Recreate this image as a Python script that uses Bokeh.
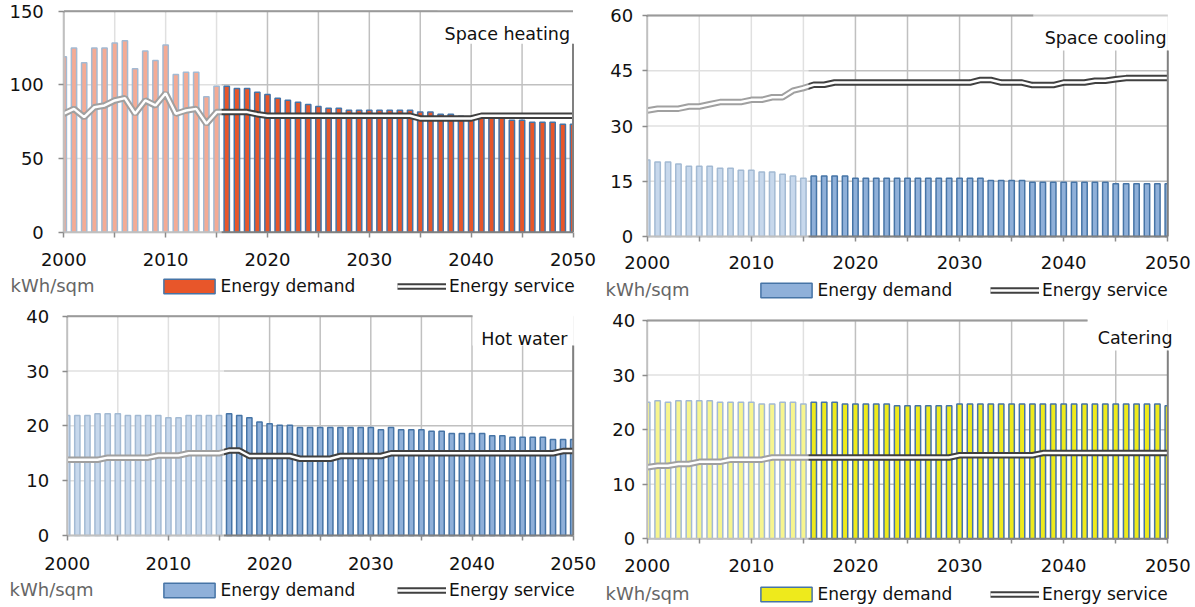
from bokeh.plotting import figure
from bokeh.layouts import column, row
from bokeh.models import FixedTicker, Legend, LegendItem, Label, Range1d, ColumnDataSource
from bokeh.embed import file_html
from bokeh.resources import INLINE

# ---------------- data ----------------
YEARS = list(range(2000, 2051))
HIST_END = 2015
X_TICKS = [2000, 2005, 2010, 2015, 2020, 2025, 2030, 2035, 2040, 2045, 2050]
X_TICK_LABELS = ["2000", "", "2010", "", "2020", "", "2030", "", "2040", "", "2050"]

TITLES = ["Space heating", "Space cooling", "Hot water", "Catering"]
UNIT = "kWh/sqm"
LEGEND_DEMAND = "Energy demand"
LEGEND_SERVICE = "Energy service"

heat_y_ticks = [0, 50, 100, 150]
heat_demand = [119, 125, 115, 125, 125, 128.5, 130, 111, 123, 116.5, 127, 107, 108.5, 108.5, 92, 99,
               99, 97.5, 97.5, 95, 93.5, 91, 89.5, 88.2, 86.7, 85.3,
               84.2, 84.2, 82.8, 82.8, 82.8, 82.8, 82.8, 82.8, 82.8,
               81.5, 81.5, 80.1, 80.1, 78.7, 78,
               77.4, 77.4, 77.4, 76, 76, 74.7, 74.7, 74.7, 73.3, 73.3]
heat_service = [80.4, 83.7, 78.1, 84.8, 86, 89.4, 91, 80.4, 89.4, 86, 94.3, 80.4, 82.6, 83.7, 73.6, 81.5,
                81.5, 81.5, 81.5, 80.1, 79, 79, 79, 79, 79, 79, 79, 79, 79, 79, 79, 79, 79, 79, 79,
                77.2, 77.2, 77.2, 77.2, 77.2, 77.2,
                79, 79, 79, 79, 79, 79, 79, 79, 79, 79]

cool_y_ticks = [0, 15, 30, 45, 60]
cool_demand = [20.8, 20.2, 20.2, 19.7, 19.1, 19.1, 19.1, 18.5, 18.5, 18.0, 18.0, 17.5, 17.5, 16.9, 16.4, 15.8,
               16.4, 16.4, 16.4, 16.4,
               15.8, 15.8, 15.8, 15.8, 15.8, 15.8, 15.8, 15.8, 15.8, 15.8, 15.8, 15.8, 15.8,
               15.2, 15.2, 15.2, 15.2,
               14.75, 14.75, 14.75, 14.75, 14.75, 14.75, 14.75, 14.75,
               14.3, 14.3, 14.3, 14.3, 14.3, 14.3]
cool_service = [34.2, 34.7, 34.7, 34.7, 35.3, 35.3, 35.9, 36.5, 36.5, 36.5, 37.1, 37.1, 37.8, 37.8, 39.6, 40.3,
                41.2, 41.2, 41.8, 41.8, 41.8, 41.8, 41.8, 41.8, 41.8, 41.8, 41.8, 41.8, 41.8, 41.8, 41.8, 41.8,
                42.5, 42.5, 41.8, 41.8, 41.8, 41.1, 41.1, 41.1, 41.8, 41.8, 41.8,
                42.3, 42.3, 42.7, 43.0, 43.0, 43.0, 43.0, 43.0]

water_y_ticks = [0, 10, 20, 30, 40]
water_demand = [21.9, 21.9, 21.9, 22.2, 22.2, 22.2, 21.9, 21.9, 21.9, 21.9, 21.5, 21.5, 21.9, 21.9, 21.9, 21.9,
                22.2, 21.9, 21.5, 20.7, 20.4, 20.1, 20.1,
                19.7, 19.7, 19.7, 19.7, 19.7, 19.7, 19.7, 19.7, 19.3, 19.7, 19.3, 19.3, 19.3,
                19.0, 19.0, 18.6, 18.6, 18.6, 18.6, 18.2, 18.2, 17.9, 17.9, 17.9, 17.9, 17.5, 17.5, 17.5]
water_service = [13.8, 13.8, 13.8, 13.8, 14.2, 14.2, 14.2, 14.2, 14.2, 14.6, 14.6, 14.6, 15.0, 15.0, 15.0, 15.0,
                 15.5, 15.5, 14.5, 14.5, 14.5, 14.5, 14.5, 14.0, 14.0, 14.0, 14.0,
                 14.5, 14.5, 14.5, 14.5, 14.5,
                 15.0, 15.0, 15.0, 15.0, 15.0, 15.0, 15.0, 15.0, 15.0, 15.0, 15.0, 15.0, 15.0, 15.0, 15.0, 15.0, 15.0,
                 15.4, 15.4]

cater_y_ticks = [0, 10, 20, 30, 40]
cater_demand = [25.0, 25.3, 25.0, 25.3, 25.3, 25.3, 25.3, 25.0, 25.0, 25.0, 25.0, 24.7, 24.7, 25.0, 25.0, 24.7,
                25.0, 25.0, 25.0, 24.7, 24.7, 24.7, 24.7, 24.7,
                24.4, 24.4, 24.4, 24.4, 24.4, 24.4,
                24.7, 24.7, 24.7, 24.7, 24.7, 24.7, 24.7, 24.7, 24.7, 24.7,
                24.7, 24.7, 24.7, 24.7, 24.7, 24.7, 24.7, 24.7, 24.7, 24.7, 24.4]
cater_service = [13.1, 13.4, 13.4, 13.7, 13.7, 14.1, 14.1, 14.1, 14.5, 14.5, 14.5, 14.5, 14.9, 14.9, 14.9, 14.9,
                 14.9, 14.9, 14.9, 14.9, 14.9, 14.9, 14.9, 14.9, 14.9, 14.9, 14.9, 14.9, 14.9, 14.9,
                 15.3, 15.3, 15.3, 15.3, 15.3, 15.3, 15.3, 15.3,
                 15.7, 15.7, 15.7, 15.7, 15.7, 15.7, 15.7, 15.7, 15.7, 15.7, 15.7, 15.7, 15.7]

# ---------------- styles ----------------
FONT = "DejaVu Sans"
BAR_EDGE = "#4674A6"
DARK = "#404040"
GRID = "#C0C0C0"
AXIS = "#808080"
TICK = "#8C8C8C"
FILLS = ["#E8562A", "#8FB0D9", "#8FB0D9", "#EEEA1C"]

FIG_W, FIG_H = 597, 303

# page-pixel anchors of each panel (figure origin, plot corners, texts)
GEO = [
    dict(fx=0, fy=0, x2000=63.3, x2050=572.5, ytop=10.7, y0=231.7,
         box_left=437, box_bottom=43.3, top_stop=None, light_top=False,
         title_right=569.5, title_base=33, unit_x=10, leg_c=285.5, legA=163, legB=397,
         ystand=15, xstand=16),
    dict(fx=597, fy=0, x2000=646.7, x2050=1167.3, ytop=15, y0=236,
         box_left=1033, box_bottom=50, top_stop=1033, light_top=True,
         title_right=1166, title_base=37, unit_x=605, leg_c=290, legA=760, legB=990,
         ystand=9, xstand=14),
    dict(fx=0, fy=303, x2000=66.7, x2050=572.7, ytop=315.7, y0=535,
         box_left=472, box_bottom=345, top_stop=472, light_top=False,
         title_right=567, title_base=338.3, unit_x=9, leg_c=590, legA=163, legB=397,
         ystand=13, xstand=16),
    dict(fx=597, fy=303, x2000=646.7, x2050=1167.3, ytop=320, y0=538.3,
         box_left=1087, box_bottom=350, top_stop=1087, light_top=False,
         title_right=1172, title_base=337, unit_x=605, leg_c=594, legA=760, legB=990,
         ystand=7, xstand=15),
]


def make_panel(title, demand, service, yticks, fill, g):
    ymax = yticks[-1]
    x0, x1 = YEARS[0], YEARS[-1]
    ppx = (g["x2050"] - g["x2000"]) / (x1 - x0)
    ppy = (g["y0"] - g["ytop"]) / ymax

    def X(px):  # page x -> data x
        return x0 + (px - g["x2000"]) / ppx

    def Y(py):  # page y -> data y
        return (g["y0"] - py) / ppy

    def SX(px):  # page x -> screen units in the frame
        return px - g["fx"]

    def SY(py):
        return g["fy"] + FIG_H - py

    p = figure(width=FIG_W, height=FIG_H, title=None,
               x_range=Range1d(X(g["fx"]), X(g["fx"] + FIG_W)),
               y_range=Range1d(Y(g["fy"] + FIG_H), Y(g["fy"])),
               output_backend="svg", toolbar_location=None,
               min_border=0, min_border_left=0, min_border_right=0,
               min_border_top=0, min_border_bottom=0)
    p.outline_line_color = None
    p.background_fill_color = "white"
    p.border_fill_color = "white"
    p.xgrid.visible = False
    p.ygrid.visible = False

    # axes placed at the data origin
    p.xaxis.fixed_location = 0
    p.yaxis.fixed_location = x0
    for ax in (p.xaxis[0], p.yaxis[0]):
        ax.axis_line_color = None
        ax.major_tick_line_color = TICK
        ax.major_tick_line_width = 1.5
        ax.major_tick_out = 5
        ax.major_tick_in = 0
        ax.minor_tick_line_color = None
        ax.major_label_text_font = FONT
        ax.major_label_text_font_size = "18px"
        ax.major_label_text_color = "#111111"
    p.xaxis.ticker = FixedTicker(ticks=X_TICKS)
    p.xaxis.major_label_overrides = {t: s for t, s in zip(X_TICKS, X_TICK_LABELS)}
    p.xaxis.major_label_standoff = int(g["xstand"])
    p.yaxis.ticker = FixedTicker(ticks=yticks)
    p.yaxis.major_label_standoff = int(g["ystand"])

    # grid lines inside the plot area
    p.segment(x0=X_TICKS, x1=X_TICKS, y0=[0] * len(X_TICKS), y1=[ymax] * len(X_TICKS),
              line_color=GRID, line_width=1.5)
    p.segment(x0=[x0] * len(yticks), x1=[x1] * len(yticks), y0=yticks, y1=yticks,
              line_color=GRID, line_width=1.5)

    src = ColumnDataSource(dict(year=YEARS, demand=demand, service=service))
    r_bar = p.vbar(x="year", top="demand", bottom=0, width=0.52, source=src,
                   fill_color=fill, line_color=BAR_EDGE, line_width=1.5)
    r_dark = p.line(x="year", y="service", source=src, line_color=DARK, line_width=6.5)
    r_white = p.line(x="year", y="service", source=src, line_color="white", line_width=2.5)

    # clip first / last bar at the plot edges
    p.quad(left=X(g["fx"]), right=x0, bottom=-ymax * 0.02, top=ymax * 1.02,
           fill_color="white", line_color=None)
    p.quad(left=x1, right=X(g["fx"] + FIG_W), bottom=-ymax * 0.02, top=ymax * 1.02,
           fill_color="white", line_color=None)

    # left / bottom frame lines (faded by the history overlay)
    p.line([x0, x1], [0, 0], line_color=AXIS, line_width=2)
    p.line([x0, x0], [0, ymax], line_color=AXIS, line_width=2)

    # history overlay
    p.quad(left=X(g["x2000"] - 1.5), right=HIST_END + 0.5, bottom=Y(g["y0"] + 1.5), top=Y(g["ytop"] + 1),
           fill_color="white", fill_alpha=0.5, line_color=None)

    # white box behind the title
    p.quad(left=X(g["box_left"]), right=x1, bottom=Y(g["box_bottom"]), top=Y(g["fy"]),
           fill_color="white", line_color=None)

    # top and right frame lines
    top_stop = x1 if g["top_stop"] is None else X(g["top_stop"])
    p.line([x0, top_stop], [ymax, ymax], line_color="#9A9A9A", line_width=2)
    if g["light_top"]:
        p.line([top_stop, x1], [ymax, ymax], line_color="#CFCFCF", line_width=2)
    p.line([x1, x1], [0, Y(g["box_bottom"])], line_color=AXIS, line_width=2)

    p.add_layout(Label(x=SX(g["title_right"]), y=SY(g["title_base"]), x_units="screen", y_units="screen",
                       text=title, text_align="right", text_baseline="alphabetic",
                       text_font=FONT, text_font_size="17.5px", text_color="#111111"))
    p.add_layout(Label(x=SX(g["unit_x"]), y=SY(g["leg_c"] - 1), x_units="screen", y_units="screen",
                       text=UNIT, text_align="left", text_baseline="middle",
                       text_font=FONT, text_font_size="18px", text_color="#666666"))

    common = dict(orientation="horizontal", padding=0, margin=0, border_line_color=None,
                  background_fill_alpha=0, label_text_font=FONT, label_text_font_size="17px",
                  label_text_color="#111111", label_height=20, spacing=0)
    leg_bottom = SY(g["leg_c"] + 10)
    legA = Legend(items=[LegendItem(label=LEGEND_DEMAND, renderers=[r_bar])],
                  location=(SX(g["legA"]) - 6.4, leg_bottom), glyph_width=64, glyph_height=18,
                  label_standoff=0, **common)
    legB = Legend(items=[LegendItem(label=LEGEND_SERVICE, renderers=[r_dark, r_white])],
                  location=(SX(g["legB"]), leg_bottom), glyph_width=49, glyph_height=14,
                  label_standoff=3, **common)
    p.add_layout(legA)
    p.add_layout(legB)
    return p


p1 = make_panel(TITLES[0], heat_demand, heat_service, heat_y_ticks, FILLS[0], GEO[0])
p2 = make_panel(TITLES[1], cool_demand, cool_service, cool_y_ticks, FILLS[1], GEO[1])
p3 = make_panel(TITLES[2], water_demand, water_service, water_y_ticks, FILLS[2], GEO[2])
p4 = make_panel(TITLES[3], cater_demand, cater_service, cater_y_ticks, FILLS[3], GEO[3])

layout = column(row(p1, p2), row(p3, p4))
open("out.html", "w").write(file_html(layout, INLINE))
